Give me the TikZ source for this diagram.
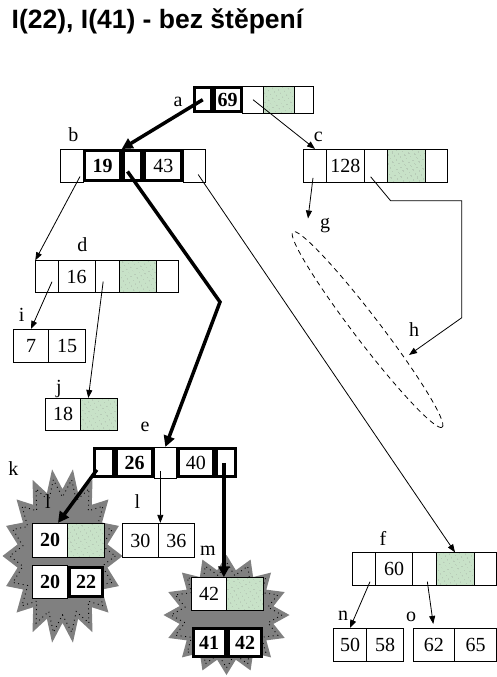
\documentclass[tikz,border=0pt]{standalone}
\usepackage{fontspec}
\setmainfont{Liberation Serif}
\newfontfamily\headfont{Liberation Sans}
\usetikzlibrary{arrows.meta,calc,shapes.geometric,patterns.meta}

\definecolor{leafgreen}{RGB}{200,226,200}

\tikzset{
  box/.style={draw, rectangle, inner sep=0pt, line width=0.8pt, font=\fontsize{20}{20}\selectfont},
  cell/.style={box, fill=white},
  fatcell/.style={cell, line width=3pt},
  freecell/.style={box, preaction={fill=leafgreen}, pattern={Dots[distance=4pt,radius=0.45pt,angle=30]}, pattern color=gray},
  letter/.style={anchor=base, inner sep=0pt, font=\fontsize{20}{20}\selectfont},
  ptr/.style={-{Triangle[length=8pt,width=6pt]}, line width=0.8pt},
  fatptr/.style={-{Triangle[length=11pt,width=11pt]}, line width=3.5pt},
  starfill/.style={fill=gray},
  stardots/.style={draw=black, line width=0.9pt, dash pattern=on 0.9pt off 3.6pt},
}

\begin{document}
\begin{tikzpicture}[x=1pt,y=-1pt]

    \useasboundingbox (0,0) rectangle (497,677);

    % title
    \node[anchor=base west, inner sep=0pt, font=\headfont\bfseries\fontsize{26.5}{26.5}\selectfont] (title) at (11.5,28.3) {I(22), I(41) - bez štěpení};

    % star k round the split leaf
    \fill[starfill] (122.5,556) \foreach \i [evaluate=\i as \f using {1-0.24*mod(\i,2)}] in {1,...,35} { -- ({62.5+\f*60*cos(\i*10)},{556+\f*88*sin(\i*10)}) } -- cycle;
    \draw[stardots] (115.3,556) \foreach \i [evaluate=\i as \f using {0.88-0.21*mod(\i,2)}] in {1,...,35} { -- ({62.5+\f*60*cos(\i*10)},{556+\f*88*sin(\i*10)}) } -- cycle;

    % star m
    \fill[starfill] (289.5,615) \foreach \i [evaluate=\i as \f using {1-0.24*mod(\i,2)}] in {1,...,31} { -- ({226.5+\f*63*cos(\i*11.25)},{615+\f*60*sin(\i*11.25)}) } -- cycle;
    \draw[stardots] (281.9,615) \foreach \i [evaluate=\i as \f using {0.88-0.21*mod(\i,2)}] in {1,...,31} { -- ({226.5+\f*63*cos(\i*11.25)},{615+\f*60*sin(\i*11.25)}) } -- cycle;

    % node a
    \node[letter] (lab-a) at (178,106) {a};
    \node[fatcell, minimum width=16.5pt, minimum height=24.3pt] (a1) at (202.75,99.7) {};
    \node[fatcell, minimum width=27.2pt, minimum height=24.3pt] (a2) at (227.6,99.7) {\textbf{69}};
    \node[cell, minimum width=20.6pt, minimum height=27.3pt] (a3) at (253,99.7) {};
    \node[freecell, minimum width=30.7pt, minimum height=27.3pt] (a4) at (278.65,99.7) {};
    \node[cell, minimum width=19.3pt, minimum height=27.3pt] (a5) at (303.65,99.7) {};

    % node b
    \node[letter] (lab-b) at (73.3,141.7) {b};
    \node[cell, minimum width=22.6pt, minimum height=33pt] (b1) at (72,165.5) {};
    \node[fatcell, minimum width=35.4pt, minimum height=30pt] (b2) at (102.5,165.5) {\textbf{19}};
    \node[fatcell, minimum width=18.6pt, minimum height=30pt] (b3) at (132.5,165.5) {};
    \node[fatcell, minimum width=37pt, minimum height=30pt] (b4) at (163.3,165.5) {43};
    \node[cell, minimum width=21.7pt, minimum height=33pt] (b5) at (194.15,165.5) {};

    % node c
    \node[letter] (lab-c) at (318.3,141) {c};
    \node[cell, minimum width=23.4pt, minimum height=33pt] (c1) at (315,165.8) {};
    \node[cell, minimum width=37.3pt, minimum height=33pt] (c2) at (345.35,165.8) {128};
    \node[cell, minimum width=23.3pt, minimum height=33pt] (c3) at (375.65,165.8) {};
    \node[freecell, minimum width=37.7pt, minimum height=33pt] (c4) at (406.15,165.8) {};
    \node[cell, minimum width=22.3pt, minimum height=33pt] (c5) at (436.15,165.8) {};

    % node d
    \node[letter] (lab-d) at (82.3,251.7) {d};
    \node[cell, minimum width=22.6pt, minimum height=32pt] (d1) at (47,276.7) {};
    \node[cell, minimum width=36.7pt, minimum height=32pt] (d2) at (76.65,276.7) {16};
    \node[cell, minimum width=24.3pt, minimum height=32pt] (d3) at (107.15,276.7) {};
    \node[freecell, minimum width=36.7pt, minimum height=32pt] (d4) at (137.65,276.7) {};
    \node[cell, minimum width=22.3pt, minimum height=32pt] (d5) at (167.15,276.7) {};

    % leaf i
    \node[letter] (lab-i) at (21.7,321.7) {i};
    \node[cell, minimum width=35.4pt, minimum height=32.7pt] (i1) at (31,345.7) {7};
    \node[cell, minimum width=36.6pt, minimum height=32.7pt] (i2) at (67,345.7) {15};

    % leaf j
    \node[letter] (lab-j) at (59,393) {j};
    \node[cell, minimum width=35pt, minimum height=31.7pt] (j1) at (63.2,414.2) {18};
    \node[freecell, minimum width=36.6pt, minimum height=31.7pt] (j2) at (99,414.2) {};

    % empty set g, h
    \node[draw, dash pattern=on 5pt off 4pt, line width=0.8pt, ellipse, inner sep=0pt, minimum width=246pt, minimum height=26pt, rotate=-52.6] (gh) at (367.5,329.5) {};
    \node[letter] (lab-g) at (325,228) {g};
    \node[letter] (lab-h) at (414,336.7) {h};
    \coordinate (gtip) at (308,218.5);
    \coordinate (htip) at (409,355);

    % node e
    \node[letter] (lab-e) at (145,431.7) {e};
    \node[fatcell, minimum width=19.3pt, minimum height=28pt] (e1) at (103.85,462.8) {};
    \node[fatcell, minimum width=36pt, minimum height=28pt] (e2) at (134.5,462.8) {\textbf{26}};
    \node[cell, minimum width=22.7pt, minimum height=31pt] (e3) at (165.35,462.8) {};
    \node[fatcell, minimum width=35.3pt, minimum height=28pt] (e4) at (195.85,462.8) {40};
    \node[fatcell, minimum width=18.7pt, minimum height=28pt] (e5) at (225.85,462.8) {};

    % leaf l inside star k, split
    \node[letter] (lab-k) at (13.3,475) {k};
    \node[letter] (lab-l) at (48,508) {l};
    \node[cell, minimum width=35.4pt, minimum height=34pt] (l1) at (50,540.3) {\textbf{20}};
    \node[freecell, minimum width=36.6pt, minimum height=34pt] (l2) at (86,540.3) {};
    \node[cell, minimum width=35.4pt, minimum height=32.6pt] (k1) at (50,582) {\textbf{20}};
    \node[fatcell, minimum width=33.6pt, minimum height=29.6pt] (k2) at (86,582) {\textbf{22}};

    % second leaf l
    \node[letter] (lab-ll) at (137.3,508) {l};
    \node[cell, minimum width=36pt, minimum height=34.4pt] (ll1) at (140.3,540.5) {30};
    \node[cell, minimum width=36pt, minimum height=34.4pt] (ll2) at (176.3,540.5) {36};

    % leaf m inside star
    \node[letter] (lab-m) at (208,555.7) {m};
    \node[cell, minimum width=35pt, minimum height=32.3pt] (m1) at (209.2,593.8) {42};
    \node[freecell, minimum width=36.6pt, minimum height=32.3pt] (m2) at (245,593.8) {};
    \node[fatcell, minimum width=32pt, minimum height=28.6pt] (mm1) at (209.2,642.5) {\textbf{41}};
    \node[fatcell, minimum width=33.6pt, minimum height=28.6pt] (mm2) at (245,642.5) {\textbf{42}};

    % node f
    \node[letter] (lab-f) at (383,545) {f};
    \node[cell, minimum width=23.4pt, minimum height=33pt] (f1) at (364,569.2) {};
    \node[cell, minimum width=37pt, minimum height=33pt] (f2) at (394.2,569.2) {60};
    \node[cell, minimum width=23.3pt, minimum height=33pt] (f3) at (424.35,569.2) {};
    \node[freecell, minimum width=38pt, minimum height=33pt] (f4) at (455,569.2) {};
    \node[cell, minimum width=22.7pt, minimum height=33pt] (f5) at (485.35,569.2) {};

    % leaves n, o
    \node[letter] (lab-n) at (343,620) {n};
    \node[cell, minimum width=34pt, minimum height=33.4pt] (n1) at (350,645) {50};
    \node[cell, minimum width=36.6pt, minimum height=33.4pt] (n2) at (385,645) {58};
    \node[letter] (lab-o) at (411,621) {o};
    \node[cell, minimum width=41pt, minimum height=33.4pt] (o1) at (433.8,645) {62};
    \node[cell, minimum width=42.4pt, minimum height=33.4pt] (o2) at (475.5,645) {65};

    % search path for 22 and 41
    \draw[fatptr] (a1.center) -- (b3.north west);
    \coordinate (bend) at (220,302);
    \draw[fatptr] ($(b3.center)+(-5,6)$) -- (bend) -- (e3.north);
    \draw[fatptr] ($(e1.center)+(-7,7)$) -- ($(l1.north)+(8,0)$);
    \coordinate (e5p) at ($(e5.center)+(-2,0)$);
    \draw[fatptr] (e5p) -- (e5p |- m1.north);

    % other pointers
    \draw[ptr] (a3.center) -- (c1.north);
    \draw[ptr] ($(b1.center)+(8,11)$) -- (d1.north west);
    \draw[ptr] ($(b5.center)+(4,9)$) -- (f4.north);
    \draw[ptr] ($(c1.center)+(-2,12)$) -- (gtip);
    \draw[ptr] ($(c3.center)+(-5,11)$) -- ++(20,24) -- ++(71,0) -- ++(0,117) -- (htip);
    \draw[ptr] ($(d1.center)+(5,5)$) -- (i1.north);
    \draw[ptr] ($(d3.center)+(-4,5)$) -- ($(j2.north west)+(8,0)$);
    \coordinate (e3p) at ($(e3.center)+(-5,8)$);
    \draw[ptr] (e3p) -- (e3p |- ll1.north);
    \draw[ptr] ($(f1.center)+(6,12.5)$) -- (n1.north);
    \draw[ptr, shorten >=4pt] ($(f3.center)+(3,12.5)$) -- (o1.north);

\end{tikzpicture}
\end{document}
